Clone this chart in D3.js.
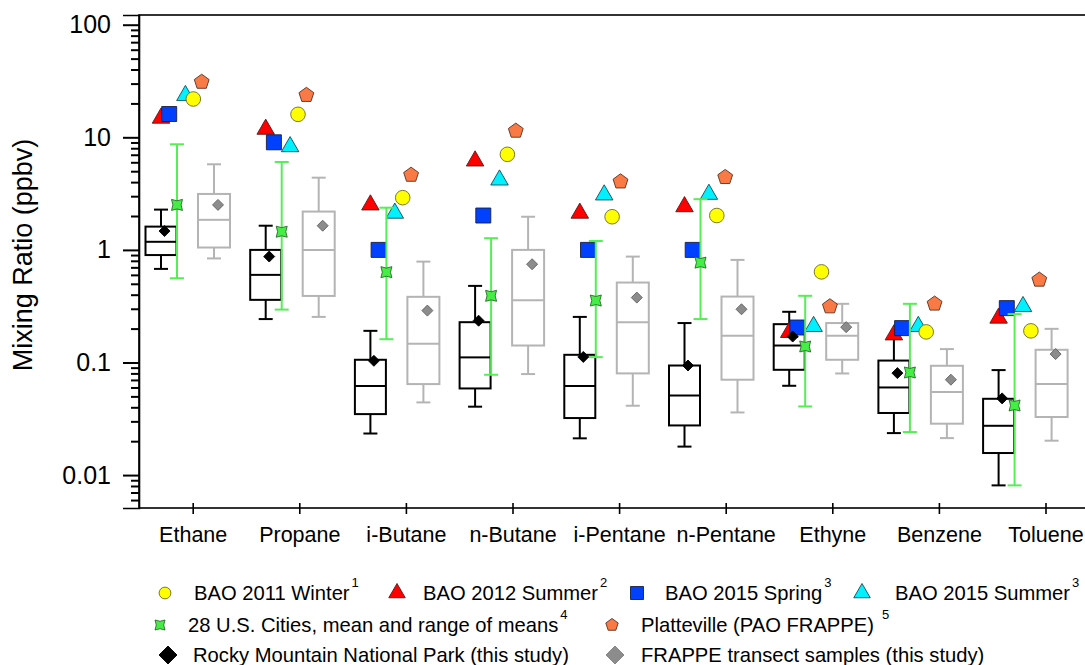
<!DOCTYPE html>
<html><head><meta charset="utf-8">
<script src="https://cdn.jsdelivr.net/npm/d3@7"></script>
<style>
body{margin:0;background:#fff;}
svg{display:block;font-family:"Liberation Sans",Arial,sans-serif;}
</style>
</head><body>
<svg id="c" width="1085" height="665"></svg>
<script>
// ---------------- DATA ----------------
const categories = ["Ethane","Propane","i-Butane","n-Butane","i-Pentane","n-Pentane","Ethyne","Benzene","Toluene"];
const yTickValues = [0.01, 0.1, 1, 10, 100];
const yTickLabels = ["0.01", "0.1", "1", "10", "100"];

// Rocky Mountain National Park (this study) – box statistics
const rmnpLow  = [0.678, 0.243, 0.0234, 0.0405, 0.0212, 0.0179, 0.0621, 0.0236, 0.0081];
const rmnpQ1   = [0.90, 0.36, 0.0348, 0.0588, 0.0321, 0.0276, 0.0861, 0.0356, 0.0157];
const rmnpMed  = [1.18, 0.60, 0.0618, 0.111, 0.0618, 0.0509, 0.1415, 0.060, 0.0274];
const rmnpQ3   = [1.61, 1.0, 0.1057, 0.228, 0.117, 0.094, 0.219, 0.104, 0.0476];
const rmnpHigh = [2.28, 1.64, 0.191, 0.479, 0.254, 0.224, 0.282, 0.165, 0.0856];
const rmnpMean = [1.47, 0.873, 0.1035, 0.235, 0.112, 0.094, 0.170, 0.0805, 0.048];

// FRAPPE transect samples (this study) – box statistics
const frLow  = [0.84, 0.254, 0.0442, 0.0789, 0.0413, 0.036, 0.0799, 0.0213, 0.0202];
const frQ1   = [1.05, 0.39, 0.0643, 0.1415, 0.080, 0.0703, 0.1057, 0.0286, 0.0328];
const frMed  = [1.85, 1.0, 0.1465, 0.358, 0.228, 0.1726, 0.1726, 0.0546, 0.0643];
const frQ3   = [3.14, 2.19, 0.383, 1.0, 0.513, 0.385, 0.224, 0.0935, 0.1297];
const frHigh = [5.76, 4.38, 0.787, 1.97, 0.872, 0.815, 0.332, 0.1315, 0.199];
const frMean = [2.51, 1.64, 0.289, 0.746, 0.377, 0.297, 0.206, 0.0703, 0.1188];

// 28 U.S. Cities, mean and range of means
const citiesMean = [2.51, 1.45, 0.634, 0.391, 0.355, 0.771, 0.1387, 0.0815, 0.0415];
const citiesLow  = [0.56, 0.295, 0.161, 0.0778, 0.1116, 0.243, 0.0407, 0.0241, 0.0081];
const citiesHigh = [8.67, 6.04, 2.37, 1.27, 1.2, 2.82, 0.391, 0.332, 0.269];

// BAO / Platteville comparison values
const bao2012Summer = [14.8, 11.8, 2.51, 6.17, 2.12, 2.42, 0.185, 0.176, 0.248];
const bao2015Spring = [16.1, 9.03, 1.0, 2.02, 1.0, 1.0, 0.2045, 0.202, 0.304];
const bao2015Summer = [23.5, 8.26, 2.12, 4.18, 3.08, 3.12, 0.209, 0.209, 0.314];
const bao2011Winter = [21.9, 16.0, 2.91, 7.06, 1.97, 2.02, 0.638, 0.187, 0.191];
const platteville   = [31, 23.7, 4.63, 11.4, 4.04, 4.42, 0.314, 0.332, 0.542];

// ---------------- CHART ----------------
const svg = d3.select("#c");
const L = 139, R = 1098, T = 15, B = 508;

const y = d3.scaleLog().domain([0.0051, 122]).range([B, T]);
const xAxisScale = d3.scalePoint().domain(categories).range([192.7, 1045.5]);
const xData = d3.scalePoint().domain(categories).range([161, 998.6]);

// symbol path helpers
function pTri(w){const h=w*0.866;return `M0,${-h*2/3}L${w/2},${h/3}L${-w/2},${h/3}Z`;}
function pSq(s){return `M${-s/2},${-s/2}h${s}v${s}h${-s}Z`;}
function pDia(w){return `M0,${-w/2}L${w/2},0L0,${w/2}L${-w/2},0Z`;}
function pPent(r){let p=[];for(let k=0;k<5;k++){const a=(-90+72*k)*Math.PI/180;p.push([r*Math.cos(a),r*Math.sin(a)]);}return "M"+p.map(d=>d.join(",")).join("L")+"Z";}
function pStar(s){const a=s/2,b=a*0.74;return `M${-a},${-a}L0,${-b}L${a},${-a}L${b},0L${a},${a}L0,${b}L${-a},${a}L${-b},0Z`;}
function pCirc(r){return `M${r},0A${r},${r} 0 1,1 ${-r},0A${r},${r} 0 1,1 ${r},0Z`;}

// frame
svg.append("rect").attr("x",L).attr("y",T).attr("width",R-L).attr("height",B-T)
  .attr("fill","none").attr("stroke","#000").attr("stroke-width",1.6);

// y axis major
const yAxisG = svg.append("g").attr("transform",`translate(${L},0)`)
  .call(d3.axisLeft(y).tickValues(yTickValues).tickSize(16).tickPadding(12)
    .tickFormat((d,i)=>yTickLabels[i]));
yAxisG.select(".domain").attr("stroke-width",1.6);
yAxisG.selectAll(".tick line").attr("stroke-width",2);
yAxisG.selectAll(".tick text").attr("font-size",25).attr("fill","#000").attr("font-family","Liberation Sans, Arial, sans-serif");

// y axis minor
const minors = [];
for (let d=-3; d<=2; d++) for (let k=2;k<=9;k++){const v=k*Math.pow(10,d); if(v>0.0052 && v<120) minors.push(v);}
const yMinor = svg.append("g").attr("transform",`translate(${L},0)`)
  .call(d3.axisLeft(y).tickValues(minors).tickSize(8).tickFormat(""));
yMinor.select(".domain").remove();
yMinor.selectAll(".tick line").attr("stroke-width",2);

// x axis
const xAxisG = svg.append("g").attr("transform",`translate(0,${B})`)
  .call(d3.axisBottom(xAxisScale).tickSize(6).tickPadding(13));
xAxisG.select(".domain").remove();
xAxisG.selectAll(".tick line").attr("y1",-5).attr("y2",6).attr("stroke-width",1.6);
xAxisG.selectAll(".tick text").attr("font-size",21.5).attr("fill","#000").attr("font-family","Liberation Sans, Arial, sans-serif");

// y label
svg.append("text").attr("transform","translate(32,255) rotate(-90)")
  .attr("text-anchor","middle").attr("font-size",27).attr("fill","#000")
  .text("Mixing Ratio (ppbv)");

// box plot helper
function drawBoxes(cls, off, bw, cap, color, sw, low, q1, med, q3, high){
  const g = svg.append("g").attr("class",cls).attr("stroke",color).attr("stroke-width",sw).attr("fill","none");
  categories.forEach((c,i)=>{
    const cx = xData(c)+off;
    g.append("line").attr("x1",cx).attr("x2",cx).attr("y1",y(q3[i])).attr("y2",y(high[i]));
    g.append("line").attr("x1",cx).attr("x2",cx).attr("y1",y(q1[i])).attr("y2",y(low[i]));
    g.append("line").attr("x1",cx-cap/2).attr("x2",cx+cap/2).attr("y1",y(high[i])).attr("y2",y(high[i]));
    g.append("line").attr("x1",cx-cap/2).attr("x2",cx+cap/2).attr("y1",y(low[i])).attr("y2",y(low[i]));
    g.append("rect").attr("x",cx-bw/2).attr("y",y(q3[i])).attr("width",bw).attr("height",y(q1[i])-y(q3[i])).attr("fill","#fff");
    g.append("line").attr("x1",cx-bw/2).attr("x2",cx+bw/2).attr("y1",y(med[i])).attr("y2",y(med[i]));
  });
}
drawBoxes("rmnp", 0, 31, 14, "#000", 2, rmnpLow, rmnpQ1, rmnpMed, rmnpQ3, rmnpHigh);
drawBoxes("frappe", 53, 32, 14, "#b4b4b4", 2, frLow, frQ1, frMed, frQ3, frHigh);

// comparison markers
function drawMarkers(vals, off, path, fill, stroke){
  svg.append("g").selectAll("path").data(vals).join("path")
    .attr("transform",(d,i)=>`translate(${xData(categories[i])+off},${y(d)})`)
    .attr("d",path).attr("fill",fill).attr("stroke",stroke).attr("stroke-width",0.9);
}
drawMarkers(bao2012Summer, 0, pTri(17.5), "#ff0000", "#5a1a1a");
drawMarkers(bao2015Spring, 8.2, pSq(15), "#0040ff", "#1a2040");
drawMarkers(bao2015Summer, 24.4, pTri(17.5), "#00f0ff", "#1a4a55");
drawMarkers(bao2011Winter, 32.3, pCirc(7.3), "#ffff00", "#6a6a30");
drawMarkers(platteville, 40.7, pPent(7.8), "#fa7a45", "#5a3020");

// 28 cities range bars
const gc = svg.append("g").attr("stroke","#55ee55").attr("stroke-width",2);
categories.forEach((c,i)=>{
  const cx = xData(c)+16;
  gc.append("line").attr("x1",cx).attr("x2",cx).attr("y1",y(citiesLow[i])).attr("y2",y(citiesHigh[i]));
  gc.append("line").attr("x1",cx-7).attr("x2",cx+7).attr("y1",y(citiesLow[i])).attr("y2",y(citiesLow[i]));
  gc.append("line").attr("x1",cx-7).attr("x2",cx+7).attr("y1",y(citiesHigh[i])).attr("y2",y(citiesHigh[i]));
});
drawMarkers(citiesMean, 16, pStar(11), "#44ee44", "#2a6a2a");

// means
drawMarkers(rmnpMean, 3.5, pDia(11), "#000", "#000");
drawMarkers(frMean, 57, pDia(11), "#8c8c8c", "#606060");

// ---------------- LEGEND ----------------
const legendItems = [
  {x:165, y:593, path:pCirc(5.9), fill:"#ffff00", stroke:"#6a6a30", tx:194, ty:599.5, label:"BAO 2011 Winter", sup:"1", sdx:2},
  {x:397, y:593, path:pTri(16.5), fill:"#ff0000", stroke:"#5a1a1a", tx:423, ty:599.5, label:"BAO 2012 Summer", sup:"2", sdx:2},
  {x:637, y:593, path:pSq(13), fill:"#0040ff", stroke:"#1a2040", tx:665, ty:599.5, label:"BAO 2015 Spring", sup:"3", sdx:2},
  {x:862, y:593, path:pTri(16.5), fill:"#00f0ff", stroke:"#1a4a55", tx:895, ty:599.5, label:"BAO 2015 Summer", sup:"3", sdx:2},
  {x:160, y:625, path:pStar(10), fill:"#44ee44", stroke:"#2a6a2a", tx:188, ty:631.5, label:"28 U.S. Cities, mean and range of means", sup:"4", sdx:2},
  {x:612, y:625, path:pPent(6.5), fill:"#fa7a45", stroke:"#5a3020", tx:641, ty:631.5, label:"Platteville (PAO FRAPPE)", sup:"5", sdx:8},
  {x:168, y:655, path:pDia(18), fill:"#000", stroke:"#000", tx:193, ty:661.5, label:"Rocky Mountain National Park (this study)", sup:"", sdx:0},
  {x:615, y:655, path:pDia(18), fill:"#8c8c8c", stroke:"#808080", tx:641, ty:661.5, label:"FRAPPE transect samples (this study)", sup:"", sdx:0}
];
const lg = svg.append("g");
legendItems.forEach(it=>{
  lg.append("path").attr("transform",`translate(${it.x},${it.y})`).attr("d",it.path)
    .attr("fill",it.fill).attr("stroke",it.stroke).attr("stroke-width",0.9);
  const t = lg.append("text").attr("x",it.tx).attr("y",it.ty).attr("font-size",20.2).attr("fill","#000").text(it.label);
  if (it.sup) t.append("tspan").attr("dx",it.sdx).attr("dy",-13).attr("font-size",13).text(it.sup);
});
</script>
</body></html>
